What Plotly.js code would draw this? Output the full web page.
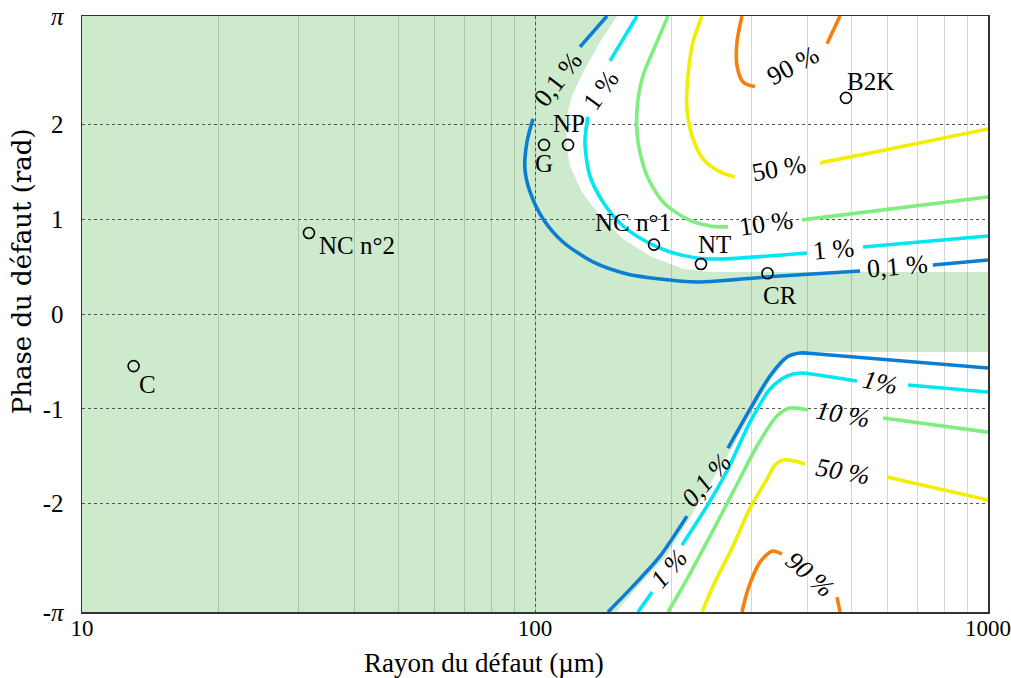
<!DOCTYPE html>
<html>
<head>
<meta charset="utf-8">
<script src="https://cdn.plot.ly/plotly-3.0.1.min.js"></script>
<style>html,body{margin:0;padding:0;background:#fff;}#chart{width:1011px;height:678px;}</style>
</head>
<body>
<div id="chart"></div>
<script>
// ---------- DATA ----------
const PI = Math.PI;
const levelNames = ['0,1 %', '1 %', '10 %', '50 %', '90 %'];

// Contours, phase > 0 (null = gap for label)
const up01R = [144.2, 125.7, null, 99.0, 96.0, 95.0, 97.5, 104.2, 115.3, 134.3, 159.7, 188.8, 227.8, 347.4, 521.7, null, 755.9, 1000];
const up01P = [PI, 2.816, null, 2.057, 1.814, 1.530, 1.287, 1.002, 0.759, 0.549, 0.422, 0.369, 0.338, 0.401, 0.454, null, 0.517, 0.570];
const up1R = [168.0, 146.4, null, 130.9, 128.9, 132.2, 141.3, 156.4, 176.7, 198.6, 227.8, 256.1, 398.5, null, 529.8, 1000];
const up1P = [PI, 2.669, null, 2.078, 1.814, 1.456, 1.181, 0.928, 0.759, 0.654, 0.591, 0.580, 0.643, null, 0.707, 0.823];
const up10R = [196.6, 185.9, 173.1, 168.0, 168.8, 176.7, 191.7, 216.5, 243.4, 266.7, null, 388.5, 1000];
const up10P = [PI, 2.869, 2.511, 2.162, 1.814, 1.456, 1.181, 1.002, 0.928, 0.918, null, 0.992, 1.234];
const up50R = [233.7, 223.3, 217.6, 216.5, 222.2, 234.9, 256.1, 276.4, null, 425.7, 577.8, 1000];
const up50P = [PI, 2.869, 2.511, 2.162, 1.878, 1.635, 1.498, 1.445, null, 1.593, 1.719, 1.951];
const up90R = [286.4, 279.2, 279.2, 287.9, 306.0, null, 441.2, 471.3];
const up90P = [PI, 2.869, 2.616, 2.447, 2.395, null, 2.848, PI];

// Contours, phase < 0
const lo01R = [144.9, 164.6, 188.8, 216.5, null, 266.7, 298.3, 330.2, 360.0, 384.6, 421.4, 1000];
const lo01P = [-PI, -2.869, -2.553, -2.131, null, -1.414, -1.002, -0.654, -0.454, -0.411, -0.422, -0.570];
const lo1R = [168.8, 181.3, null, 211.1, 239.7, 265.3, 298.3, 330.2, 360.0, 384.6, 421.4, 513.8, null, 665.9, 1000];
const lo1P = [-PI, -2.932, null, -2.437, -2.025, -1.656, -1.139, -0.791, -0.654, -0.622, -0.643, -0.707, null, -0.749, -0.823];
const lo10R = [196.6, 216.5, 243.4, 273.6, 309.1, 342.1, 365.6, 400.5, null, 586.6, 1000];
const lo10P = [-PI, -2.795, -2.342, -1.878, -1.392, -1.076, -0.992, -1.013, null, -1.097, -1.245];
const lo50R = [233.7, 247.1, 273.6, 298.3, 325.2, 338.8, 352.8, 375.0, 394.5, null, 598.4, 1000];
const lo50P = [-PI, -2.869, -2.447, -2.046, -1.741, -1.593, -1.540, -1.551, -1.582, null, -1.719, -1.962];
const lo90R = [286.4, 295.3, 313.8, 333.6, 351.0, null, 464.2, 471.3];
const lo90P = [-PI, -2.901, -2.616, -2.500, -2.532, null, -2.985, -PI];

// Green zone boundary
const greenR = [10, 151.7, 139.2, 128.9, 120.7, 117.1, 117.6, 119.5, 126.9, 139.2, 156.4, 179.4, 212.1, 243.4, 1000, 1000, 384.6, 363.8, 335.3, 304.4, 272.2, 244.7, 221.0, 194.6, 168.8, 151.0, 10];
const greenP = [PI, PI, 2.869, 2.584, 2.300, 2.057, 1.741, 1.561, 1.287, 1.034, 0.791, 0.612, 0.475, 0.443, 0.443, -0.401, -0.401, -0.454, -0.654, -1.002, -1.414, -1.772, -2.131, -2.553, -2.869, -PI, -PI];

// Defects
const defectNames = ['C', 'NC n°2', 'G', 'NP', 'NC n°1', 'NT', 'CR', 'B2K'];
const defectR = [13.0, 31.7, 104.7, 118.3, 183.1, 232.5, 326.0, 485.8];
const defectP = [-0.549, 0.854, 1.783, 1.783, 0.731, 0.527, 0.429, 2.278];

// Contour labels
const labelText = ['0,1 %', '1 %', '90 %', '50 %', '10 %', '1 %', '0,1 %', '0,1 %', '1 %', '1%', '10 %', '50 %', '90 %'];
const labelR = [112.4, 139.9, 371.2, 345.6, 323.5, 454.9, 629.7, 238.5, 197.6, 577.8, 478.6, 478.6, 404.6];
const labelP = [2.468, 2.352, 2.616, 1.530, 0.949, 0.675, 0.496, -1.751, -2.679, -0.717, -1.055, -1.656, -2.743];

// Axis ticks
const yTickVals = [-PI, -2, -1, 0, 1, 2, PI];
const yTickText = ['-<i>π</i>', '-2', '-1', '0', '1', '2', '<i>π</i>'];
const xTickVals = [10, 100, 1000];
const xTickText = ['10', '100', '1000'];

// ---------- STYLE ----------
const levelColors = ['#0b7ed4', '#00e6f2', '#7eee7e', '#f2ee00', '#f5800f'];
const labelAngles = [-52, -54, -28, -10, -8, -5, -5, -49, -49, 12, 10, 10, 41];
const labelItalic = [false, false, false, false, false, false, false, true, true, true, true, true, true];
const defectShift = [[14, -18, 'center'], [8, -13, 'left'], [0, -19, 'center'], [1, 21, 'center'], [-21, 22, 'center'], [14, 20, 'center'], [13, -22, 'center'], [25, 16, 'center']];
const SERIF = 'Liberation Serif, Times New Roman, serif';

const upper = [[up01R, up01P], [up1R, up1P], [up10R, up10P], [up50R, up50P], [up90R, up90P]];
const lower = [[lo01R, lo01P], [lo1R, lo1P], [lo10R, lo10P], [lo50R, lo50P], [lo90R, lo90P]];

const traces = [];
[upper, lower].forEach(function (fam, fi) {
  fam.forEach(function (c, i) {
    traces.push({
      type: 'scatter', mode: 'lines', x: c[0], y: c[1],
      name: levelNames[i] + (fi ? ' (φ<0)' : ''),
      line: {color: levelColors[i], width: 3.6, shape: 'spline', smoothing: 0.8},
      connectgaps: false, hoverinfo: 'skip', showlegend: false
    });
  });
});
traces.push({
  type: 'scatter', mode: 'markers', x: defectR, y: defectP, text: defectNames,
  marker: {symbol: 'circle-open', size: 11, color: '#000', line: {width: 1.6, color: '#000'}},
  showlegend: false, cliponaxis: false
});

// green zone path built from the boundary arrays (shape paths use data values)
let greenPath = '';
greenR.forEach(function (r, i) {
  greenPath += (i === 0 ? 'M' : 'L') + r + ',' + greenP[i];
});
greenPath += 'Z';

const annotations = [];
defectNames.forEach(function (n, i) {
  annotations.push({
    x: Math.log10(defectR[i]), y: defectP[i], xref: 'x', yref: 'y', text: n, showarrow: false,
    xanchor: defectShift[i][2], yanchor: 'middle', xshift: defectShift[i][0], yshift: defectShift[i][1],
    font: {family: SERIF, size: 25, color: '#000'}
  });
});
labelText.forEach(function (t, i) {
  annotations.push({
    x: Math.log10(labelR[i]), y: labelP[i], xref: 'x', yref: 'y',
    text: labelItalic[i] ? '<i>' + t + '</i>' : t, showarrow: false,
    textangle: labelAngles[i], xanchor: 'center', yanchor: 'middle',
    font: {family: SERIF, size: 26, color: '#000'}
  });
});
annotations.push({
  xref: 'paper', yref: 'paper', x: 0.4437, y: -0.086, xanchor: 'center', yanchor: 'middle',
  text: 'Rayon du défaut (µm)', showarrow: false, font: {family: SERIF, size: 27, color: '#000'}
});
annotations.push({
  xref: 'paper', yref: 'paper', x: -0.066, y: 0.572, xanchor: 'center', yanchor: 'middle',
  text: 'Phase du défaut (rad)', textangle: -90, showarrow: false,
  font: {family: 'DejaVu Serif, serif', size: 26, color: '#000'}
});

const layout = {
  width: 1011, height: 678,
  margin: {l: 82, r: 23, t: 16, b: 66},
  paper_bgcolor: '#fff', plot_bgcolor: '#fff',
  showlegend: false,
  font: {family: SERIF, color: '#000'},
  xaxis: {
    type: 'log', range: [1, 3], tickmode: 'array', tickvals: xTickVals, ticktext: xTickText,
    showgrid: true, gridcolor: '#555', griddash: 'dot', gridwidth: 1,
    minor: {dtick: 'D1', showgrid: true, gridcolor: 'rgba(0,0,0,0.16)', griddash: 'solid', gridwidth: 1, ticks: ''},
    showline: true, mirror: true, linecolor: '#333', linewidth: 1.5,
    ticks: '', ticklabeloverflow: 'allow', ticklabelstandoff: -5,
    tickfont: {family: SERIF, size: 23, color: '#000'}, zeroline: false
  },
  yaxis: {
    range: [-PI, PI], tickmode: 'array', tickvals: yTickVals, ticktext: yTickText,
    showgrid: true, gridcolor: '#555', griddash: 'dot', gridwidth: 1,
    showline: true, mirror: true, linecolor: '#333', linewidth: 1.5,
    ticks: 'outside', ticklen: 12, tickcolor: 'rgba(0,0,0,0)', ticklabeloverflow: 'allow',
    tickfont: {family: SERIF, size: 25, color: '#000'}, zeroline: false
  },
  shapes: [{
    type: 'path', path: greenPath, xref: 'x', yref: 'y', layer: 'below',
    fillcolor: '#cdeacc', line: {width: 0}
  }],
  annotations: annotations
};

Plotly.newPlot('chart', traces, layout, {staticPlot: true, displayModeBar: false});
</script>
</body>
</html>
